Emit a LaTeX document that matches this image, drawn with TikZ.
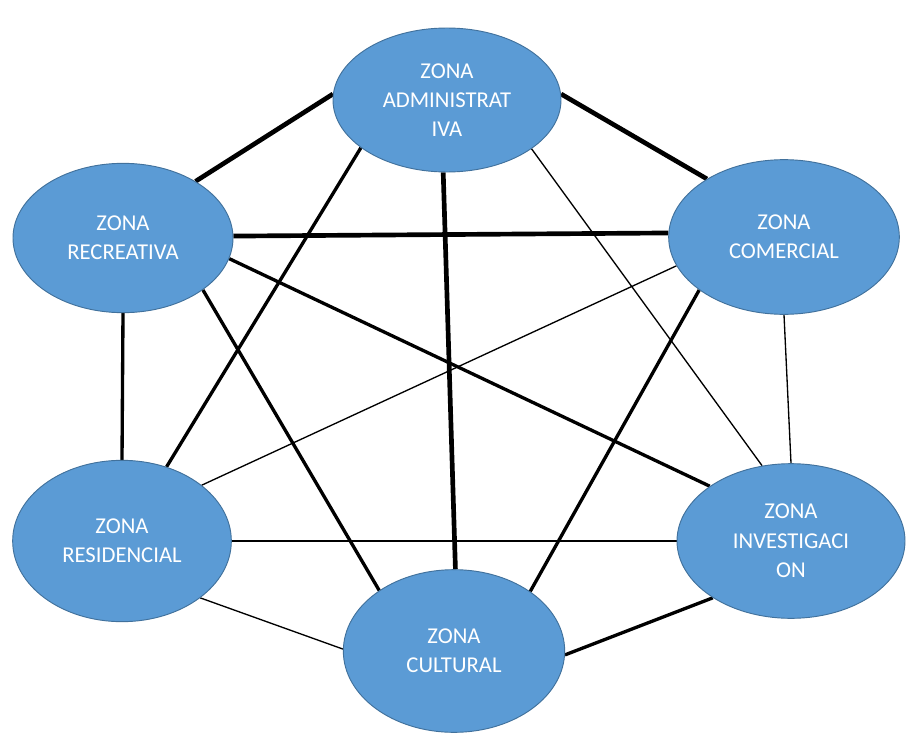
\documentclass[tikz,border=0pt]{standalone}
\usepackage{fontspec}
\setmainfont{Carlito}
\usepackage{tikz}
\usetikzlibrary{positioning,shapes.geometric,backgrounds}
\definecolor{zonefill}{HTML}{5B9BD5}
\definecolor{zonedraw}{HTML}{41719C}
\tikzset{
  zona/.style={ellipse,draw=zonedraw,line width=0.7pt,fill=zonefill,
    text=white,align=center,inner sep=0pt,
    font=\fontsize{17}{22}\selectfont},
  lnk/.style={line width=3.5pt,draw=black},
  lnkm/.style={line width=2.5pt,draw=black},
  lnkt/.style={line width=1pt,draw=black},
}
\begin{document}
\begin{tikzpicture}[x=0.75pt,y=-0.75pt]
  \useasboundingbox (0,0) rectangle (906,742);
  \node[zona,minimum width=171pt,minimum height=108pt] (adm) at (447,100) {ZONA\\ADMINISTRAT\\IVA};
  \node[zona,minimum width=165pt,minimum height=112pt] (rec) at (123,238) {ZONA\\RECREATIVA};
  \node[zona,minimum width=173pt,minimum height=116pt] (com) at (784,237) {ZONA\\COMERCIAL};
  \node[zona,minimum width=164pt,minimum height=121pt] (res) at (122,541) {ZONA\\RESIDENCIAL};
  \node[zona,minimum width=171pt,minimum height=116pt] (inv) at (791,541) {ZONA\\INVESTIGACI\\ON};
  \node[zona,minimum width=166pt,minimum height=122pt] (cul) at (454,651) {ZONA\\CULTURAL};
  \begin{scope}[on background layer]
    \foreach \a/\b in {adm.177.6/rec.38.4,adm.3.5/com.143.5,rec.1.5/com.178.5,adm.267/cul.89}
      \draw[lnk] (\a)--(\b);
    \foreach \a/\b in {adm.209/res.59,rec.270/res.90,rec.327/cul.141,rec.349/inv.146,com.212/cul.38,cul.358/inv.216.8}
      \draw[lnkm] (\a)--(\b);
    \foreach \a/\b in {adm.330/inv.111,com.195/res.35,com.270/inv.90,res.0/inv.180,res.324/cul.179}
      \draw[lnkt] (\a)--(\b);
  \end{scope}
\end{tikzpicture}
\end{document}
